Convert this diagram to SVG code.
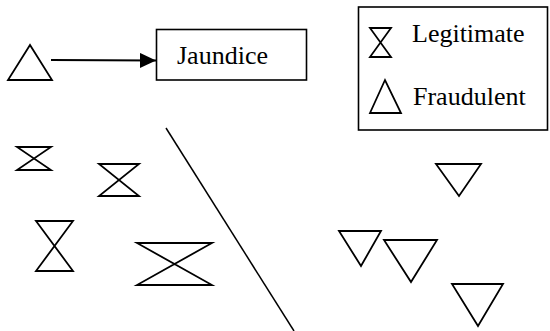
<svg xmlns="http://www.w3.org/2000/svg" width="550" height="331" viewBox="0 0 550 331">
<style>
.s{fill:none;stroke:#000;stroke-width:1.8;stroke-linejoin:miter}
text{font-family:'Liberation Serif','Times New Roman',Times,serif;font-size:26px;fill:#000}
.b{fill:#fff;stroke:#000;stroke-width:1.6}
</style>
<defs>
<marker id="ah" viewBox="0 0 16 15" refX="16" refY="7.5" markerWidth="16" markerHeight="15" markerUnits="userSpaceOnUse" orient="auto">
<path d="M0,0 L16,7.5 L0,15 Z" fill="#000"/>
</marker>
</defs>
<rect width="550" height="331" fill="#fff"/>
<g id="legend">
<rect class="b" x="358.5" y="7" width="189" height="123"/>
<polygon class="s" points="370,28 391,28 370,57 391,57"/>
<text x="412" y="42" font-family="Liberation Serif, serif">Legitimate</text>
<polygon class="s" points="385,80 370,113 401,113"/>
<text x="413" y="105" font-family="Liberation Serif, serif">Fraudulent</text>
</g>
<g id="fraud-sample">
<polygon class="s" points="30,45 8,80 52,80"/>
</g>
<g id="jaundice">
<rect class="b" x="156.5" y="29.5" width="150" height="50.5"/>
<text x="177" y="64" font-family="Liberation Serif, serif">Jaundice</text>
</g>
<g id="connectors">
<line x1="51" y1="60" x2="156" y2="60.5" stroke="#000" stroke-width="2.2" marker-end="url(#ah)"/>
</g>
<g id="separator">
<line x1="166" y1="128" x2="294" y2="331" stroke="#000" stroke-width="1.5"/>
</g>
<g id="legit1"><polygon class="s" points="17,147 51,147 17,170 51,170"/></g>
<g id="legit2"><polygon class="s" points="99,164 139,164 99,196 139,196"/></g>
<g id="legit3"><polygon class="s" points="36,221 73,221 36,271 73,271"/></g>
<g id="legit4"><polygon class="s" points="137,243 212,243 137,285 212,285"/></g>
<g id="fraud1"><polygon class="s" points="436,164 481,164 459,196"/></g>
<g id="fraud2"><polygon class="s" points="339,231 381,231 361,266"/></g>
<g id="fraud3"><polygon class="s" points="384,240 437,240 411,282"/></g>
<g id="fraud4"><polygon class="s" points="452,284 503,284 478,326"/></g>
</svg>
